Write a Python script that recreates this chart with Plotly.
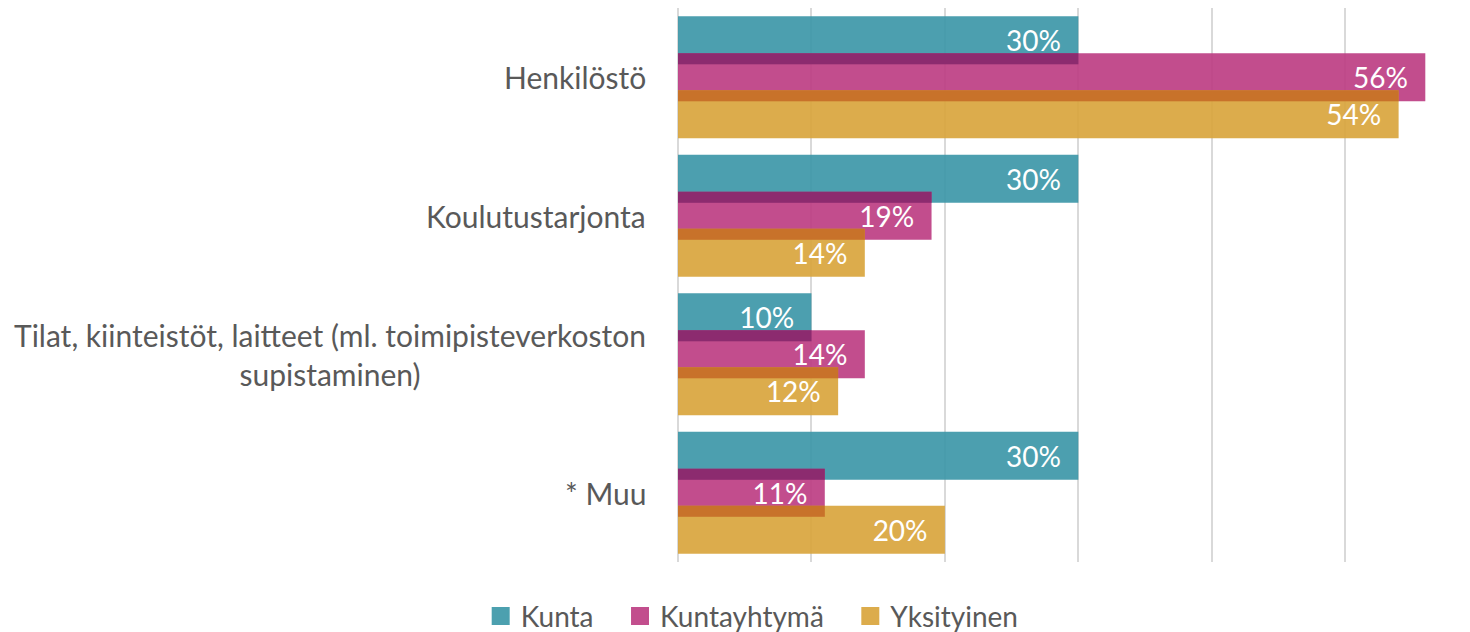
import numpy as np
import plotly.graph_objects as go

categories = ["Henkilöstö", "Koulutustarjonta",
              "Tilat, kiinteistöt, laitteet (ml. toimipisteverkoston<br>supistaminen)",
              "* Muu"]
series_names = ["Kunta", "Kuntayhtymä", "Yksityinen"]
kunta = [0.30, 0.30, 0.10, 0.30]
kuntayhtyma = [0.56, 0.19, 0.14, 0.11]
yksityinen = [0.54, 0.14, 0.12, 0.20]

colors = ["rgb(56,149,166)", "rgb(187,58,129)", "rgb(216,163,56)"]
legend_colors = ["rgb(76,160,175)", "rgb(194,78,141)", "rgb(220,172,76)"]
overlap_colors = ["rgb(136,41,109)", "rgb(198,110,40)"]
legend_pad = [3, 3, 0]   # extra non-breaking spaces after legend names (spacing)
OP = 0.9
FONT = "Lato"
GREY = "#595959"

ypos = np.arange(len(categories))
bw = 0.3466
step = 0.267
centers = [-step, 0.0, step]
series = [kunta, kuntayhtyma, yksityinen]

fig = go.Figure()
for name, vals, col, c in zip(series_names, series, colors, centers):
    fig.add_trace(go.Bar(
        y=ypos, x=vals, orientation="h", name=name, showlegend=False,
        width=bw, offset=c - bw / 2,
        marker=dict(color=col, opacity=OP, line=dict(width=0)),
        texttemplate="%{x:.0%}\u00a0\u00a0", textposition="inside",
        insidetextanchor="end", textangle=0,
        textfont=dict(color="white", size=28, family=FONT),
        constraintext="none", hoverinfo="x+name",
    ))

# darker bands where consecutive bars overlap
for i in range(2):
    ov = np.minimum(series[i], series[i + 1])
    top = centers[i + 1] - bw / 2
    bot = centers[i] + bw / 2
    fig.add_trace(go.Bar(
        y=ypos, x=ov, orientation="h", showlegend=False,
        width=bot - top, offset=top,
        marker=dict(color=overlap_colors[i], opacity=OP, line=dict(width=0)),
        hoverinfo="skip",
    ))

# legend entries with larger square symbols
for name, col, pad in zip(series_names, legend_colors, legend_pad):
    fig.add_trace(go.Scatter(
        x=[None], y=[None], mode="markers", name=name + "\u00a0" * pad,
        marker=dict(symbol="square", size=16, color=col,
                    line=dict(width=2, color=col)),
    ))

for yv, lab in zip(ypos, categories):
    fig.add_annotation(x=0, xref="paper", y=yv, yref="y", text=lab,
                       xanchor="right", yanchor="middle", align="center",
                       xshift=-30, showarrow=False,
                       font=dict(size=30, color=GREY, family=FONT))

fig.update_layout(
    width=1470, height=632,
    margin=dict(l=678, r=2, t=8, b=70),
    barmode="overlay",
    plot_bgcolor="white", paper_bgcolor="white",
    font=dict(family=FONT, color=GREY),
    showlegend=True,
    legend=dict(orientation="h", xref="container", x=0.327, xanchor="left",
                yref="container", y=0.025, yanchor="middle",
                font=dict(size=28, color=GREY, family=FONT),
                tracegroupgap=0, itemsizing="trace"),
    xaxis=dict(range=[0, 0.592], showticklabels=False, showgrid=True,
               gridcolor="#D9D9D9", gridwidth=2, zeroline=True,
               zerolinecolor="#D9D9D9", zerolinewidth=2, dtick=0.1,
               showline=False, fixedrange=True),
    yaxis=dict(range=[3.5, -0.5], showticklabels=False, showgrid=False,
               zeroline=False, showline=False, fixedrange=True),
)

fig.write_html("out.html", config={"displayModeBar": False},
               post_script="document.body.style.margin='0px';")
